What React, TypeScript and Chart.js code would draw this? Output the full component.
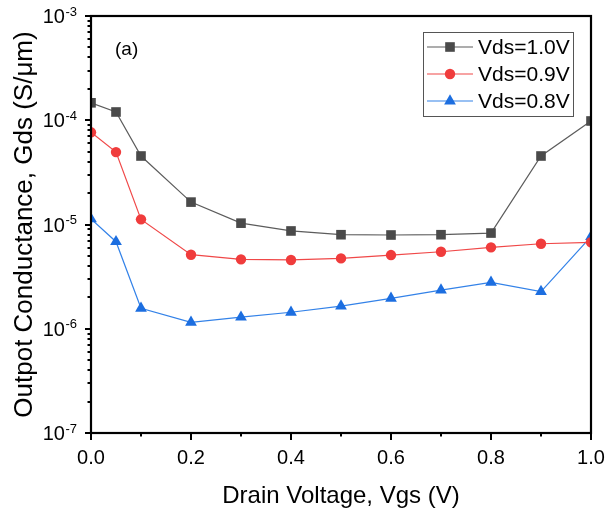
import React, { useEffect, useRef } from 'react';
import { Chart, registerables } from 'chart.js';
import { drawPoint } from 'chart.js/helpers';

Chart.register(...registerables);

const vgs = [0, 0.05, 0.1, 0.2, 0.3, 0.4, 0.5, 0.6, 0.7, 0.8, 0.9, 1.0];
const gdsVds10 = [1.47e-4, 1.2e-4, 4.54e-5, 1.64e-5, 1.03e-5, 8.67e-6, 7.98e-6, 7.93e-6, 7.98e-6, 8.28e-6, 4.54e-5, 9.84e-5];
const gdsVds09 = [7.66e-5, 4.95e-5, 1.12e-5, 5.13e-6, 4.63e-6, 4.57e-6, 4.73e-6, 5.09e-6, 5.48e-6, 6.04e-6, 6.54e-6, 6.75e-6];
const gdsVds08 = [1.13e-5, 6.84e-6, 1.57e-6, 1.15e-6, 1.29e-6, 1.44e-6, 1.65e-6, 1.96e-6, 2.35e-6, 2.79e-6, 2.27e-6, 7.64e-6];
const seriesLabels = ['Vds=1.0V', 'Vds=0.9V', 'Vds=0.8V'];
const yDecadeExps = [-7, -6, -5, -4, -3];
const xMajorTicks = [0, 0.2, 0.4, 0.6, 0.8, 1.0];
const xMinorTicks = [0.1, 0.3, 0.5, 0.7, 0.9];
const panelLabel = '(a)';
const xTitle = 'Drain Voltage, Vgs (V)';
const yTitle = 'Outpot Conductance, Gds (S/\u03bcm)';

const FONT = 'Liberation Sans, Arial, sans-serif';

const styles = [
  { color: '#4a4a4a', line: '#5c5c5c', pointStyle: 'rect', radius: 6.8 },
  { color: '#f03c3c', line: '#f04848', pointStyle: 'circle', radius: 5.2 },
  { color: '#1c6ee0', line: '#3382e8', pointStyle: 'triangle', radius: 6.8 },
];

const decorPlugin = {
  id: 'decor',
  afterDatasetsDraw(chart: any) {
    const { ctx, chartArea: a, scales } = chart;
    const ys = scales.y;
    const xs = scales.x;
    ctx.save();
    ctx.strokeStyle = '#000';
    ctx.lineWidth = 2;
    // minor y ticks
    for (let i = 0; i < yDecadeExps.length - 1; i++) {
      const e = yDecadeExps[i];
      for (let m = 2; m <= 9; m++) {
        const py = Math.round(ys.getPixelForValue(m * Math.pow(10, e)));
        ctx.beginPath();
        ctx.moveTo(a.left - 3.5, py);
        ctx.lineTo(a.left, py);
        ctx.stroke();
      }
    }
    // minor x ticks
    for (const v of xMinorTicks) {
      const px = Math.round(xs.getPixelForValue(v));
      ctx.beginPath();
      ctx.moveTo(px, a.bottom);
      ctx.lineTo(px, a.bottom + 3.5);
      ctx.stroke();
    }
    // frame
    ctx.lineWidth = 2.2;
    ctx.strokeRect(a.left, a.top, a.right - a.left, a.bottom - a.top);

    // y tick labels with superscript
    ctx.fillStyle = '#000';
    for (const e of yDecadeExps) {
      const py = ys.getPixelForValue(Math.pow(10, e));
      ctx.font = `13px ${FONT}`;
      const supText = String(e);
      const supW = ctx.measureText(supText).width;
      const supRight = a.left - 14;
      ctx.textAlign = 'left';
      ctx.textBaseline = 'middle';
      ctx.fillText(supText, supRight - supW, py - 4);
      ctx.font = `20px ${FONT}`;
      ctx.textAlign = 'right';
      ctx.fillText('10', supRight - supW - 0.5, py + 1.5);
    }

    // panel label
    ctx.font = `19px ${FONT}`;
    ctx.textAlign = 'left';
    ctx.textBaseline = 'middle';
    ctx.fillText(panelLabel, a.left + 24, a.top + 34);

    // legend
    const bx = 423, by = 32, bw = 150, bh = 84;
    ctx.lineWidth = 1;
    ctx.strokeStyle = '#555';
    ctx.strokeRect(bx + 0.5, by + 0.5, bw, bh);
    chart.data.datasets.forEach((ds: any, i: number) => {
      const ry = by + 15 + i * 27;
      const st = styles[i];
      ctx.strokeStyle = st.line;
      ctx.lineWidth = 1.2;
      ctx.beginPath();
      ctx.moveTo(bx + 4, ry);
      ctx.lineTo(bx + 50, ry);
      ctx.stroke();
      ctx.fillStyle = st.color;
      ctx.strokeStyle = st.color;
      drawPoint(ctx, { pointStyle: st.pointStyle, radius: st.radius, rotation: 0, borderWidth: 0 } as any, bx + 27, ry);
      ctx.fillStyle = '#000';
      ctx.font = `21px ${FONT}`;
      ctx.textAlign = 'left';
      ctx.textBaseline = 'middle';
      ctx.fillText(ds.label, bx + 55, ry + 1);
    });
    ctx.restore();
  },
};

export default function App() {
  const ref = useRef<HTMLCanvasElement | null>(null);
  useEffect(() => {
    if (!ref.current) return;
    const series = [gdsVds10, gdsVds09, gdsVds08];
    const chart = new Chart(ref.current, {
      type: 'line',
      data: {
        datasets: series.map((s, i) => ({
          label: seriesLabels[i],
          data: vgs.map((x, j) => ({ x, y: s[j] })),
          borderColor: styles[i].line,
          backgroundColor: styles[i].color,
          borderWidth: 1.2,
          pointStyle: styles[i].pointStyle as any,
          pointRadius: styles[i].radius,
          pointBorderWidth: 0,
          pointBackgroundColor: styles[i].color,
          pointBorderColor: styles[i].color,
          tension: 0,
        })),
      },
      options: {
        animation: false,
        responsive: false,
        layout: { padding: { top: 16, right: 22, left: 0, bottom: 0 } },
        plugins: { legend: { display: false }, tooltip: { enabled: false } },
        scales: {
          x: {
            type: 'linear',
            min: 0,
            max: 1,
            afterBuildTicks: (s: any) => {
              s.ticks = xMajorTicks.map((v) => ({ value: v }));
            },
            afterFit: (s: any) => {
              s.height = 75;
            },
            ticks: {
              color: '#000',
              font: { family: FONT, size: 20 },
              padding: 6,
              maxRotation: 0,
              autoSkip: false,
              callback: (v: any) => Number(v).toFixed(1),
            },
            grid: { drawOnChartArea: false, drawTicks: true, tickLength: 7, color: '#000', lineWidth: 2 },
            border: { display: false },
            title: {
              display: true,
              text: xTitle,
              color: '#000',
              font: { family: FONT, size: 24 },
              padding: { top: 0, bottom: -3 },
            },
          },
          y: {
            type: 'logarithmic',
            min: 1e-7,
            max: 1e-3,
            afterBuildTicks: (s: any) => {
              s.ticks = yDecadeExps.map((e) => ({ value: Math.pow(10, e) }));
            },
            afterFit: (s: any) => {
              s.width = 91;
            },
            ticks: { display: false },
            grid: { drawOnChartArea: false, drawTicks: true, tickLength: 6, color: '#000', lineWidth: 2 },
            border: { display: false },
            title: {
              display: true,
              text: yTitle,
              color: '#000',
              font: { family: FONT, size: 26 },
              padding: { top: 9, bottom: 0 },
            },
          },
        },
      },
      plugins: [decorPlugin],
    });
    return () => chart.destroy();
  }, []);
  return (
    <div style={{ position: 'absolute', left: 0, top: 0, width: 613, height: 508, background: '#fff' }}>
      <canvas ref={ref} width={613} height={508} style={{ display: 'block' }} />
    </div>
  );
}
